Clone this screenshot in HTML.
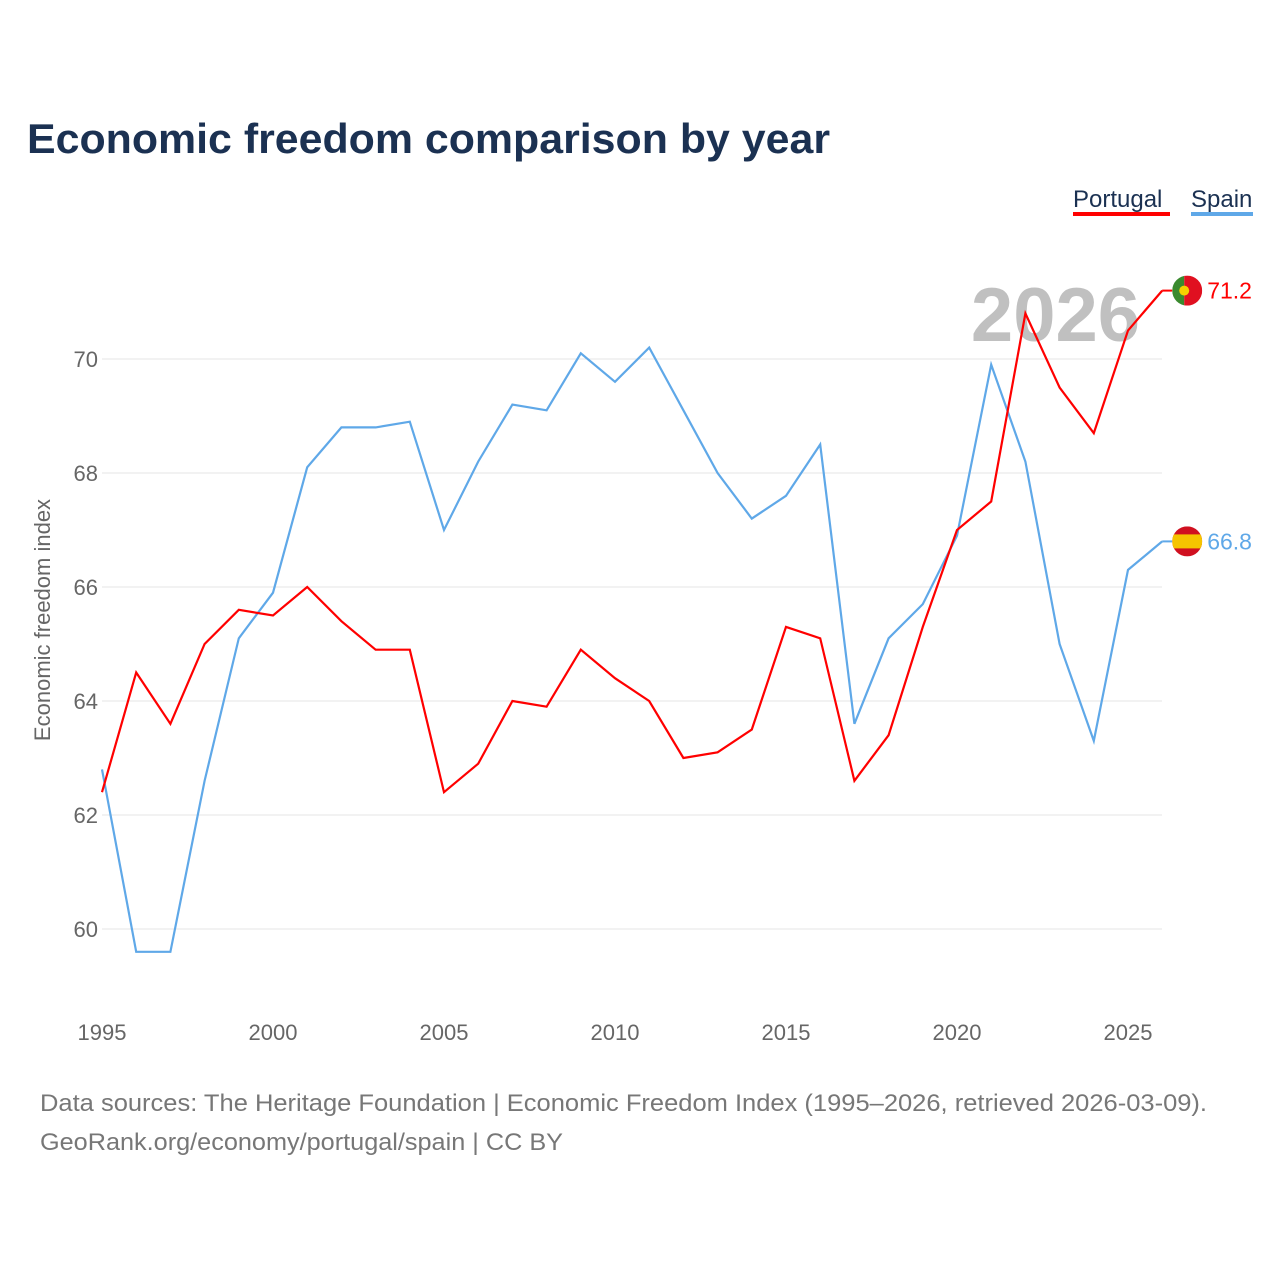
<!DOCTYPE html>
<html><head><meta charset="utf-8"><style>
html,body{margin:0;padding:0;background:#fff;}
body{width:1280px;height:1280px;overflow:hidden;font-family:"Liberation Sans",sans-serif;}
</style></head><body>
<svg width="1280" height="1280" id="svg" xmlns="http://www.w3.org/2000/svg">
<text x="27" y="153" font-size="42" font-weight="bold" fill="#1b3152" textLength="803" lengthAdjust="spacingAndGlyphs">Economic freedom comparison by year</text>
<g><text x="1073" y="207" font-size="24" fill="#1b3152">Portugal</text><rect x="1073" y="212" width="97" height="4" fill="#ff0000"/></g>
<g><text x="1191" y="207" font-size="24" fill="#1b3152">Spain</text><rect x="1191" y="212" width="62" height="4" fill="#5fa8e8"/></g>
<text x="1140" y="341" font-size="76" font-weight="bold" fill="#c0c0c0" text-anchor="end">2026</text>
<g id="grid"></g><g id="lines"></g>
<text transform="translate(50,620) rotate(-90)" text-anchor="middle" font-size="22" fill="#666">Economic freedom index</text>
<text x="40" y="1111" font-size="24" fill="#777" textLength="1167" lengthAdjust="spacingAndGlyphs">Data sources: The Heritage Foundation | Economic Freedom Index (1995–2026, retrieved 2026-03-09).</text>
<text x="40" y="1150" font-size="24" fill="#777" textLength="523" lengthAdjust="spacingAndGlyphs">GeoRank.org/economy/portugal/spain | CC BY</text>
</svg>
<script>
const years=[1995,1996,1997,1998,1999,2000,2001,2002,2003,2004,2005,2006,2007,2008,2009,2010,2011,2012,2013,2014,2015,2016,2017,2018,2019,2020,2021,2022,2023,2024,2025,2026];
const portugal=[62.4,64.5,63.6,65.0,65.6,65.5,66.0,65.4,64.9,64.9,62.4,62.9,64.0,63.9,64.9,64.4,64.0,63.0,63.1,63.5,65.3,65.1,62.6,63.4,65.3,67.0,67.5,70.8,69.5,68.7,70.5,71.2];
const spain=[62.8,59.6,59.6,62.6,65.1,65.9,68.1,68.8,68.8,68.9,67.0,68.2,69.2,69.1,70.1,69.6,70.2,69.1,68.0,67.2,67.6,68.5,63.6,65.1,65.7,66.9,69.9,68.2,65.0,63.3,66.3,66.8];
const yTicks=[60,62,64,66,68,70];
const xTicks=[1995,2000,2005,2010,2015,2020,2025];
const NS="http://www.w3.org/2000/svg";
const X=v=>102+(v-1995)*34.2, Y=v=>359+(70-v)*57;
const grid=document.getElementById('grid'), lines=document.getElementById('lines');
function mk(t,a,p){const e=document.createElementNS(NS,t);for(const k in a)e.setAttribute(k,a[k]);p.appendChild(e);return e;}
yTicks.forEach(v=>{
 const l=mk('line',{x1:102,x2:1162,y1:Y(v),y2:Y(v),stroke:'#e6e6e6','stroke-width':1},grid);
 
 
 const t=mk('text',{x:98,y:Y(v)+8,'text-anchor':'end','font-size':22,fill:'#666'},grid);t.textContent=v;
 
 
});
xTicks.forEach(v=>{
 const t=mk('text',{x:X(v),y:1040,'text-anchor':'middle','font-size':22,fill:'#666'},grid);t.textContent=v;
 
 
});
function series(vals,col,name,flag){
 const p=mk('polyline',{points:vals.map((v,i)=>X(years[i])+','+Y(v)).join(' '),fill:'none',stroke:col,'stroke-width':2.2},lines);
 
 
 const last=vals[vals.length-1], lx=X(years[years.length-1]), ly=Y(last);
 mk('line',{x1:lx,x2:lx+10,y1:ly,y2:ly,stroke:col,'stroke-width':2},lines);
 const g=mk('g',{},lines);
 
 
 const cx=lx+25;
 const defs=mk('clipPath',{id:'c'+name},g);mk('circle',{cx:cx,cy:ly,r:15},defs);
 const gg=mk('g',{'clip-path':'url(#c'+name+')'},g);
 if(flag==='pt'){mk('rect',{x:cx-15,y:ly-15,width:12,height:30,fill:'#3a8a2e'},gg);mk('rect',{x:cx-3,y:ly-15,width:18,height:30,fill:'#e01020'},gg);mk('circle',{cx:cx-3,cy:ly,r:5,fill:'#f5d000'},gg);}
 else{mk('rect',{x:cx-15,y:ly-15,width:30,height:30,fill:'#d01020'},gg);mk('rect',{x:cx-15,y:ly-7,width:30,height:14,fill:'#f5c400'},gg);}
 const t=mk('text',{x:cx+20,y:ly+8,'font-size':23,fill:col},lines);t.textContent=last.toFixed(1);
 
 
}
series(spain,'#5fa8e8','spain','es');
series(portugal,'#ff0000','portugal','pt');
</script>
</body></html>
